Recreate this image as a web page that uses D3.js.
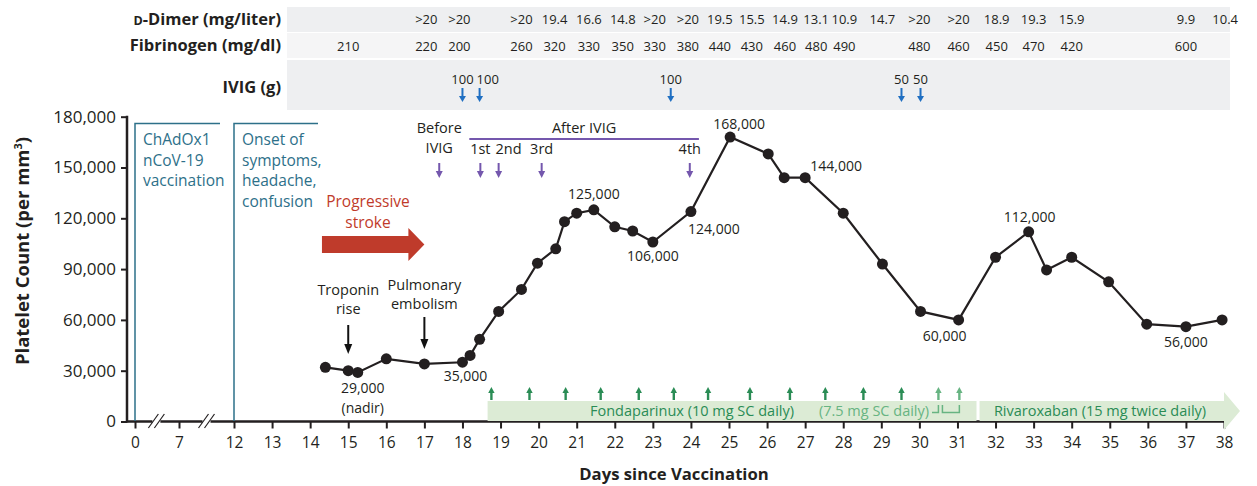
<!DOCTYPE html>
<html>
<head>
<meta charset="utf-8">
<script src="https://cdn.jsdelivr.net/npm/d3@7"></script>
<style>
body { margin: 0; background: #fff; }
svg text { font-family: "Open Sans", sans-serif; fill: #231f20; }
</style>
</head>
<body>
<div id="canvas"></div>
<script>
// platelet counts
const days = [14.4, 15.0, 15.25, 16.0, 17.0, 18.0, 18.2, 18.45, 18.95, 19.55, 19.97, 20.45, 20.68, 21.0, 21.45, 22.0, 22.47, 23.0, 24.0, 25.03, 26.03, 26.45, 27.0, 28.0, 29.03, 30.03, 31.03, 32.0, 32.87, 33.34, 34.0, 34.97, 35.97, 37.0, 37.95];
const platelets = [32000, 30000, 29000, 37000, 34000, 35000, 39000, 48500, 65000, 78000, 93500, 102000, 118000, 123000, 125000, 115000, 112500, 106000, 124000, 168000, 158000, 144000, 144000, 123000, 93000, 65000, 60000, 97000, 112000, 89500, 97000, 82500, 57500, 56000, 60000];
const callouts = [[2, "29,000"], [5, "35,000"], [14, "125,000"], [17, "106,000"], [18, "124,000"], [19, "168,000"], [22, "144,000"], [26, "60,000"], [28, "112,000"], [33, "56,000"]];

// lab table
const dimerDays = [17.05, 17.92, 19.55, 20.42, 21.32, 22.21, 23.05, 23.92, 24.76, 25.6, 26.47, 27.29, 28.03, 29.03, 30.0, 31.03, 32.03, 33.0, 34.0, 37.0, 38.03];
const dimer = [">20", ">20", ">20", "19.4", "16.6", "14.8", ">20", ">20", "19.5", "15.5", "14.9", "13.1", "10.9", "14.7", ">20", ">20", "18.9", "19.3", "15.9", "9.9", "10.4"];
const fibDays = [15.0, 17.05, 17.92, 19.55, 20.42, 21.32, 22.21, 23.05, 23.92, 24.76, 25.6, 26.47, 27.29, 28.03, 30.0, 31.03, 32.03, 33.0, 34.0, 37.0];
const fibrinogen = [210, 220, 200, 260, 320, 330, 350, 330, 380, 440, 430, 460, 480, 490, 480, 460, 450, 470, 420, 600];
const ivigDays = [18.0, 18.45, 23.47, 29.53, 30.03];
const ivigDose = [100, 100, 100, 50, 50];

// platelet timing vs IVIG
const ivigMarkDays = [17.39, 18.47, 18.95, 20.08, 23.97];
const ivigMarkLabels = ["", "1st", "2nd", "3rd", "4th"];

// anticoagulation
const fondaDays = [18.76, 19.76, 20.71, 21.63, 22.63, 23.55, 24.45, 25.55, 26.6, 27.53, 28.53, 29.53, 30.5, 31.05];
const fondaDose = [10, 10, 10, 10, 10, 10, 10, 10, 10, 10, 10, 10, 7.5, 7.5];

const xTicks = [0, 7, 12, 13, 14, 15, 16, 17, 18, 19, 20, 21, 22, 23, 24, 25, 26, 27, 28, 29, 30, 31, 32, 33, 34, 35, 36, 37, 38];
const yTicks = [0, 30000, 60000, 90000, 120000, 150000, 180000];

const width = 1257, height = 486;
const teal = "#2d7089", red = "#bf3b2b", purple = "#7457ad", blue = "#1f6fc2";
const green = "#2a8c55", lightGreen = "#67b482", barGreen = "#dcebd5";

const svg = d3.select("#canvas").append("svg")
  .attr("width", width).attr("height", height);

// broken axis: 0, 7, 12 then daily
const x = d3.scaleLinear().domain([0, 7, 12, 38]).range([135, 179, 234, 1224]);
const y = d3.scaleLinear().domain([0, 180000]).range([421.5, 116.7]);

function downArrow(g, cx, y1, y2, color, sw, hw, hl) {
  g.append("line").attr("x1", cx).attr("x2", cx).attr("y1", y1).attr("y2", y2 - hl + 1)
    .attr("stroke", color).attr("stroke-width", sw);
  g.append("path").attr("d", `M${cx - hw},${y2 - hl}L${cx + hw},${y2 - hl}L${cx},${y2}Z`).attr("fill", color);
}
function upArrow(g, cx, y1, y2, color, sw, hw, hl) {
  g.append("line").attr("x1", cx).attr("x2", cx).attr("y1", y1).attr("y2", y2 + hl - 1)
    .attr("stroke", color).attr("stroke-width", sw);
  g.append("path").attr("d", `M${cx - hw},${y2 + hl}L${cx + hw},${y2 + hl}L${cx},${y2}Z`).attr("fill", color);
}

// ---- top table
const table = svg.append("g");
table.append("rect").attr("x", 287).attr("y", 7).attr("width", 943).attr("height", 25).attr("fill", "#eeeff1");
table.append("rect").attr("x", 287).attr("y", 33).attr("width", 943).attr("height", 25).attr("fill", "#f5f5f6");
table.append("rect").attr("x", 287).attr("y", 60).attr("width", 943).attr("height", 50).attr("fill", "#eeeff1");

const dl = table.append("text").attr("x", 281).attr("y", 25).attr("text-anchor", "end")
  .style("font-weight", "bold").style("font-size", "16.5px");
dl.append("tspan").style("font-size", "12.5px").text("D");
dl.append("tspan").text("-Dimer (mg/liter)");
table.append("text").attr("x", 281).attr("y", 51).attr("text-anchor", "end")
  .style("font-weight", "bold").style("font-size", "16.5px").text("Fibrinogen (mg/dl)");
table.append("text").attr("x", 281).attr("y", 93).attr("text-anchor", "end")
  .style("font-weight", "bold").style("font-size", "16.5px").text("IVIG (g)");

table.selectAll(".dd").data(dimer).enter().append("text")
  .attr("x", (d, i) => x(dimerDays[i])).attr("y", 24)
  .attr("text-anchor", "middle").style("font-size", "13px").text(d => d);
table.selectAll(".fb").data(fibrinogen).enter().append("text")
  .attr("x", (d, i) => x(fibDays[i])).attr("y", 51)
  .attr("text-anchor", "middle").style("font-size", "13px").text(d => d);

let lastRight = -Infinity;
ivigDose.forEach((d, i) => {
  const cx = x(ivigDays[i]);
  const t = table.append("text").attr("y", 84).attr("text-anchor", "middle")
    .style("font-size", "13px").text(d);
  const w = t.node().getComputedTextLength();
  let lx = cx;
  if (lx - w / 2 < lastRight + 3) lx = lastRight + 3 + w / 2;
  t.attr("x", lx);
  lastRight = lx + w / 2;
  downArrow(table, cx, 88, 102, blue, 2, 3.5, 6);
});

// ---- axes
const axes = svg.append("g");
const yAxis = axes.append("g").attr("transform", "translate(127,0)")
  .call(d3.axisLeft(y).tickValues(yTicks).tickFormat(d3.format(",")).tickSize(6).tickPadding(5).tickSizeOuter(0));
yAxis.select(".domain").remove();
yAxis.selectAll(".tick line").attr("stroke", "#231f20").attr("stroke-width", 2);
yAxis.selectAll(".tick text").style("font-size", "17px").style("font-family", "Open Sans").attr("fill", "#231f20");
axes.append("line").attr("x1", 127).attr("x2", 127).attr("y1", y(180000) - 1).attr("y2", 422.5)
  .attr("stroke", "#231f20").attr("stroke-width", 2.5);

const xAxis = axes.append("g").attr("transform", "translate(0,421.5)")
  .call(d3.axisBottom(x).tickValues(xTicks).tickSize(7).tickPadding(8).tickSizeOuter(0));
xAxis.select(".domain").remove();
xAxis.selectAll(".tick line").attr("stroke", "#231f20").attr("stroke-width", 2);
xAxis.selectAll(".tick text").style("font-size", "15.5px").style("font-family", "Open Sans").attr("fill", "#231f20");
axes.append("line").attr("x1", 126).attr("x2", x(38) + 1).attr("y1", 421.5).attr("y2", 421.5)
  .attr("stroke", "#231f20").attr("stroke-width", 2.5);

// axis breaks
[3.4, 9.5].forEach(d => {
  const bx = x(d);
  axes.append("rect").attr("x", bx - 4).attr("y", 418).attr("width", 8).attr("height", 7).attr("fill", "#fff");
  [-3, 3].forEach(o => {
    axes.append("line").attr("x1", bx + o - 5).attr("y1", 428).attr("x2", bx + o + 5).attr("y2", 414)
      .attr("stroke", "#231f20").attr("stroke-width", 1.2);
  });
});

svg.append("text").attr("transform", "translate(29,251) rotate(-90)").attr("text-anchor", "middle")
  .style("font-weight", "bold").style("font-size", "18.5px")
  .call(t => {
    t.append("tspan").text("Platelet Count (per mm");
    t.append("tspan").attr("baseline-shift", "super").style("font-size", "11px").text("3");
    t.append("tspan").text(")");
  });
svg.append("text").attr("x", 674).attr("y", 480).attr("text-anchor", "middle")
  .style("font-weight", "bold").style("font-size", "16.7px").text("Days since Vaccination");

// ---- event boxes
const ev = svg.append("g");
[[0, 220, ["ChAdOx1", "nCoV-19", "vaccination"]], [12, 318, ["Onset of", "symptoms,", "headache,", "confusion"]]].forEach(([d, right, lines]) => {
  const bx = x(d);
  ev.append("path").attr("d", `M${bx},421V123.5H${right}`).attr("fill", "none")
    .attr("stroke", teal).attr("stroke-width", 1.5);
  lines.forEach((l, i) => ev.append("text").attr("x", bx + 8).attr("y", 145 + i * 20.7)
    .style("font-size", "15.5px").style("fill", teal).text(l));
});

// progressive stroke
ev.append("text").attr("x", 368).attr("y", 207).attr("text-anchor", "middle")
  .style("font-size", "15.5px").style("fill", red).text("Progressive");
ev.append("text").attr("x", 368).attr("y", 228).attr("text-anchor", "middle")
  .style("font-size", "15.5px").style("fill", red).text("stroke");
{
  const x0 = x(14.31), x1 = x(16.58), x2 = x(17.0);
  ev.append("path").attr("d", `M${x0},236H${x1}V228L${x2},244.5L${x1},261V253H${x0}Z`).attr("fill", red);
}

// troponin, PE
[[15, ["Troponin", "rise"], 295, 325, 354], [17, ["Pulmonary", "embolism"], 290, 317, 349]].forEach(([d, lines, ty, a1, a2]) => {
  lines.forEach((l, i) => ev.append("text").attr("x", x(d)).attr("y", ty + i * 19)
    .attr("text-anchor", "middle").style("font-size", "14.5px").text(l));
  downArrow(ev, x(d), a1, a2, "#111", 2, 4, 10);
});

// IVIG timing
ev.append("text").attr("x", x(17.39)).attr("y", 133).attr("text-anchor", "middle").style("font-size", "14.5px").text("Before");
ev.append("text").attr("x", x(17.39)).attr("y", 153).attr("text-anchor", "middle").style("font-size", "14.5px").text("IVIG");
ev.append("line").attr("x1", x(18.18)).attr("x2", x(24.21)).attr("y1", 139).attr("y2", 139)
  .attr("stroke", purple).attr("stroke-width", 2);
ev.append("text").attr("x", (x(18.18) + x(24.21)) / 2).attr("y", 133).attr("text-anchor", "middle")
  .style("font-size", "14.5px").text("After IVIG");
let prevRight = -Infinity;
ivigMarkDays.forEach((d, i) => {
  const cx = x(d);
  downArrow(ev, cx, 163, 178, purple, 2, 3.5, 7);
  if (!ivigMarkLabels[i]) return;
  const t = ev.append("text").attr("y", 154).attr("text-anchor", "middle").style("font-size", "14.5px").text(ivigMarkLabels[i]);
  const w = t.node().getComputedTextLength();
  let lx = cx;
  if (lx - w / 2 < prevRight + 5) lx = prevRight + 5 + w / 2;
  t.attr("x", lx);
  prevRight = lx + w / 2;
});

// ---- anticoagulation bars
const ac = svg.append("g");
ac.append("rect").attr("x", x(18.66)).attr("y", 401).attr("width", x(31.5) - x(18.66)).attr("height", 20).attr("fill", barGreen);
{
  const r0 = x(31.58), r1 = x(38), tip = r1 + 16;
  ac.append("path").attr("d", `M${r0},401H${r1}V392L${tip},411L${r1},430V421H${r0}Z`).attr("fill", barGreen);
}
ac.append("text").attr("x", 692).attr("y", 416).attr("text-anchor", "middle").style("font-size", "14.5px").style("fill", green)
  .text("Fondaparinux (10 mg SC daily)");
ac.append("text").attr("x", 874).attr("y", 416).attr("text-anchor", "middle").style("font-size", "14.5px").style("fill", lightGreen)
  .text("(7.5 mg SC daily)");
ac.append("text").attr("x", 1100).attr("y", 416).attr("text-anchor", "middle").style("font-size", "14.5px").style("fill", green)
  .text("Rivaroxaban (15 mg twice daily)");
fondaDays.forEach((d, i) => {
  upArrow(ac, x(d), 400, 387, fondaDose[i] === 10 ? green : lightGreen, 2.4, 3.2, 6);
});
ac.append("path").attr("d", `M932,412.5H${x(30.5)}V405M${x(30.5) + 4},405V412.5H${x(31.05)}V405`)
  .attr("fill", "none").attr("stroke", lightGreen).attr("stroke-width", 1.5);

// ---- platelet line
const pts = days.map((d, i) => [d, platelets[i]]);
const plot = svg.append("g");
plot.append("path").datum(pts)
  .attr("d", d3.line().x(d => x(d[0])).y(d => y(d[1])))
  .attr("fill", "none").attr("stroke", "#231f20").attr("stroke-width", 2.2);
plot.selectAll("circle").data(pts).enter().append("circle")
  .attr("cx", d => x(d[0])).attr("cy", d => y(d[1])).attr("r", 5.5).attr("fill", "#231f20");

const offs = {2: [5, 21], 5: [3, 19], 14: [0, -11], 17: [0, 19], 18: [23, 22], 19: [9, -8], 22: [31, -7], 26: [-14, 21], 28: [1, -10], 33: [0, 20]};
callouts.forEach(([i, t]) => {
  plot.append("text").attr("x", x(days[i]) + offs[i][0]).attr("y", y(platelets[i]) + offs[i][1])
    .attr("text-anchor", "middle").style("font-size", "14px").text(t);
});
plot.append("text").attr("x", x(days[2]) + 5).attr("y", y(platelets[2]) + 41)
  .attr("text-anchor", "middle").style("font-size", "14px").text("(nadir)");
</script>
</body>
</html>
